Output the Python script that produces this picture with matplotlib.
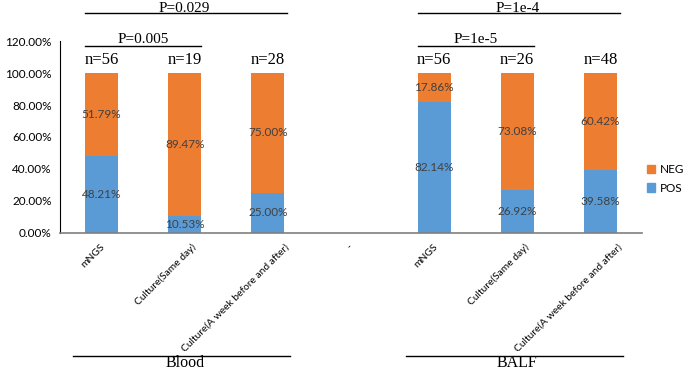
import matplotlib
matplotlib.use("Agg")
import matplotlib.pyplot as plt
import numpy as np
from matplotlib.ticker import PercentFormatter
from matplotlib.patches import Patch
from matplotlib.transforms import ScaledTranslation

# ---- data -------------------------------------------------------------------
categories = ["mNGS", "Culture(Same day)", "Culture(A week before and after)", "-",
              "mNGS", "Culture(Same day)", "Culture(A week before and after)"]
pos_pct = [48.21, 10.53, 25.00, 0, 82.14, 26.92, 39.58]
neg_pct = [51.79, 89.47, 75.00, 0, 17.86, 73.08, 60.42]
n_counts = [56, 19, 28, None, 56, 26, 48]
groups = ["Blood", "BALF"]
pvals_outer = ["P=0.029", "P=1e-4"]
pvals_inner = ["P=0.005", "P=1e-5"]

BLUE = "#5B9BD5"
ORANGE = "#ED7D31"
TXT = "#404040"
SANS = ["Lato", "DejaVu Sans"]
SERIF = ["Liberation Serif", "DejaVu Serif"]

fig = plt.figure(figsize=(6.85, 3.71), dpi=100)
ax = fig.add_axes([60/685, 1 - 233/371, 582/685, 192/371])

x = np.arange(len(categories))
pos = np.array(pos_pct) / 100
neg = np.array(neg_pct) / 100
w = 0.4
ax.bar(x, pos, w, color=BLUE)
ax.bar(x, neg, w, bottom=pos, color=ORANGE)

for i in range(len(x)):
    if n_counts[i] is None:
        continue
    ax.text(x[i], pos[i] / 2, f"{pos_pct[i]:.2f}%", ha="center", va="center",
            fontsize=8.5, color=TXT, family=SANS)
    ax.text(x[i], pos[i] + neg[i] / 2, f"{neg_pct[i]:.2f}%", ha="center", va="center",
            fontsize=8.5, color=TXT, family=SANS)
    ax.text(x[i], 1.03, f"n={n_counts[i]}", ha="center", va="bottom",
            fontsize=12, color="black", family=SERIF)

ax.set_xlim(-0.5, len(x) - 0.5)
ax.set_ylim(0, 1.2)
ax.set_yticks(np.arange(0, 1.21, 0.2))
ax.yaxis.set_major_formatter(PercentFormatter(xmax=1, decimals=2))
ax.tick_params(axis="y", length=0, labelsize=8.5, pad=6)
ax.tick_params(axis="x", length=0, pad=9)
for lab in ax.get_yticklabels():
    lab.set_family(SANS)
ax.set_xticks(x)
ax.set_xticklabels(categories, rotation=45, ha="right", va="center",
                   rotation_mode="anchor", fontsize=7.4, family=SANS)
# excel-like placement: longer labels sit a bit further right
for lab in ax.get_xticklabels():
    dx = (0.64 * len(lab.get_text()) - 0.5) * 0.72 / 72
    lab.set_transform(lab.get_transform() + ScaledTranslation(dx, 0, fig.dpi_scale_trans))
for sp in ["top", "right"]:
    ax.spines[sp].set_visible(False)
ax.spines["left"].set_color("black")
ax.spines["bottom"].set_color("#7f7f7f")
ax.spines["bottom"].set_linewidth(1.2)

# ---- significance brackets --------------------------------------------------
for g, start in enumerate([0, 4]):
    ax.plot([start - 0.2, start + 2.23], [1.373, 1.373], color="black", lw=1, clip_on=False)
    ax.text(start + 1.0, 1.383, pvals_outer[g], ha="center", va="baseline",
            fontsize=11, family=SERIF)
    ax.plot([start - 0.2, start + 1.2], [1.169, 1.169], color="black", lw=1, clip_on=False)
    ax.text(start + 0.5, 1.185, pvals_inner[g], ha="center", va="baseline",
            fontsize=11, family=SERIF)
    # group label under axis
    ax.plot([start - 0.34, start + 2.27], [-0.77, -0.77], color="black", lw=1, clip_on=False)
    ax.text(start + 1.0, -0.84, groups[g], ha="center", va="baseline",
            fontsize=11.5, family=SERIF)

handles = [Patch(color=ORANGE, label="NEG"), Patch(color=BLUE, label="POS")]
fig.legend(handles=handles, loc="center left", bbox_to_anchor=(636/685, 1 - 179/371),
           frameon=False, handlelength=0.7, handleheight=0.7,
           handletextpad=0.4, labelspacing=0.6, prop={"family": SANS, "size": 8.5})

fig.savefig("out.png", dpi=100, facecolor="white")
